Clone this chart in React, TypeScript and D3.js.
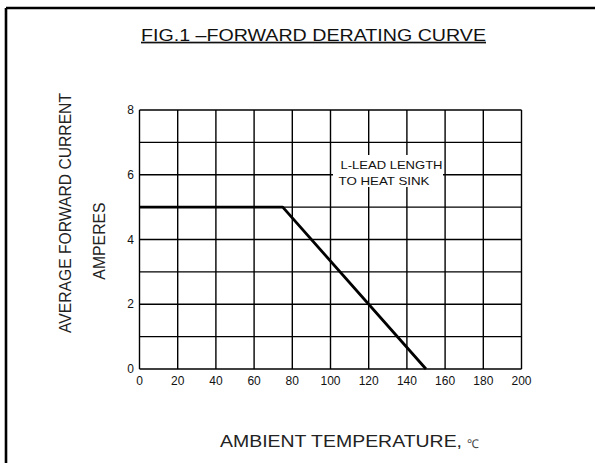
import React from 'react'
import * as d3 from 'd3'

const W = 595
const H = 463
const FONT = '"Liberation Sans", Arial, Helvetica, sans-serif'

// derating curve
const tempC = [0, 75, 150]
const currentA = [5, 5, 0]

const xTicks = [0, 20, 40, 60, 80, 100, 120, 140, 160, 180, 200]
const yGridValues = [0, 1, 2, 3, 4, 5, 6, 7, 8]
const yTickLabels = [0, 2, 4, 6, 8]

const title = 'FIG.1 \u2013FORWARD DERATING CURVE'
const yTitle = 'AVERAGE FORWARD CURRENT'
const yUnit = 'AMPERES'
const xTitle = 'AMBIENT TEMPERATURE,'
const xUnit = '\u2103'
const noteLines = ['L-LEAD LENGTH', 'TO HEAT SINK']

const plot = { left: 139.5, right: 521.5, top: 110, bottom: 369 }

export default function App() {
  const x = d3.scaleLinear().domain([0, 200]).range([plot.left, plot.right])
  const y = d3.scaleLinear().domain([0, 8]).range([plot.bottom, plot.top])

  const line = d3.line<number>()
    .x((_, i) => x(tempC[i]))
    .y(d => y(d))

  return (
    <svg width={W} height={H} style={{ position: 'absolute', left: 0, top: 0, background: '#fff' }} fontFamily={FONT}>
      <rect x={0} y={0} width={W} height={H} fill="#fff" />

      {/* frame, only top and left edges are visible */}
      <line x1={6} y1={8} x2={W} y2={8} stroke="#000" strokeWidth={2.6} />
      <line x1={6} y1={8} x2={6} y2={H} stroke="#000" strokeWidth={2.6} />

      <text x={141} y={40.7} fontSize={17} fill="#111" textLength={345} lengthAdjust="spacingAndGlyphs"
        textDecoration="underline">{title}</text>

      {/* grid */}
      <g stroke="#000" strokeWidth={1.4}>
        {xTicks.map(t => (
          <line key={'v' + t} x1={x(t)} x2={x(t)} y1={y(8)} y2={y(0)} />
        ))}
        {yGridValues.map(v => (
          <line key={'h' + v} x1={x(0)} x2={x(200)} y1={y(v)} y2={y(v)} />
        ))}
      </g>

      {/* note box */}
      <rect x={333} y={155} width={110} height={32} fill="#fff" />
      <g fontSize={11.5} fill="#111">
        <text x={340.5} y={168.5} textLength={102} lengthAdjust="spacingAndGlyphs">{noteLines[0]}</text>
        <text x={338.5} y={185} textLength={91} lengthAdjust="spacingAndGlyphs">{noteLines[1]}</text>
      </g>

      <path d={line(currentA) || ''} fill="none" stroke="#000" strokeWidth={2.8} strokeLinejoin="round" />

      {/* tick labels */}
      <g fontSize={12} fill="#111">
        {yTickLabels.map(v => (
          <text key={'yl' + v} x={134} y={y(v)} textAnchor="end" dominantBaseline="central">{v}</text>
        ))}
        {xTicks.map(t => (
          <text key={'xl' + t} x={x(t)} y={384.5} textAnchor="middle">{t}</text>
        ))}
      </g>

      {/* axis titles */}
      <text transform="translate(71, 213) rotate(-90)" textAnchor="middle" fontSize={15.8} fill="#222"
        textLength={240} lengthAdjust="spacingAndGlyphs">{yTitle}</text>
      <text transform="translate(105, 241) rotate(-90)" textAnchor="middle" fontSize={15.8} fill="#222">{yUnit}</text>

      <text x={220} y={447} fontSize={16} fill="#222" textLength={242} lengthAdjust="spacingAndGlyphs">{xTitle}</text>
      <text x={467} y={448} fontSize={12} fill="#444">{xUnit}</text>
    </svg>
  )
}
